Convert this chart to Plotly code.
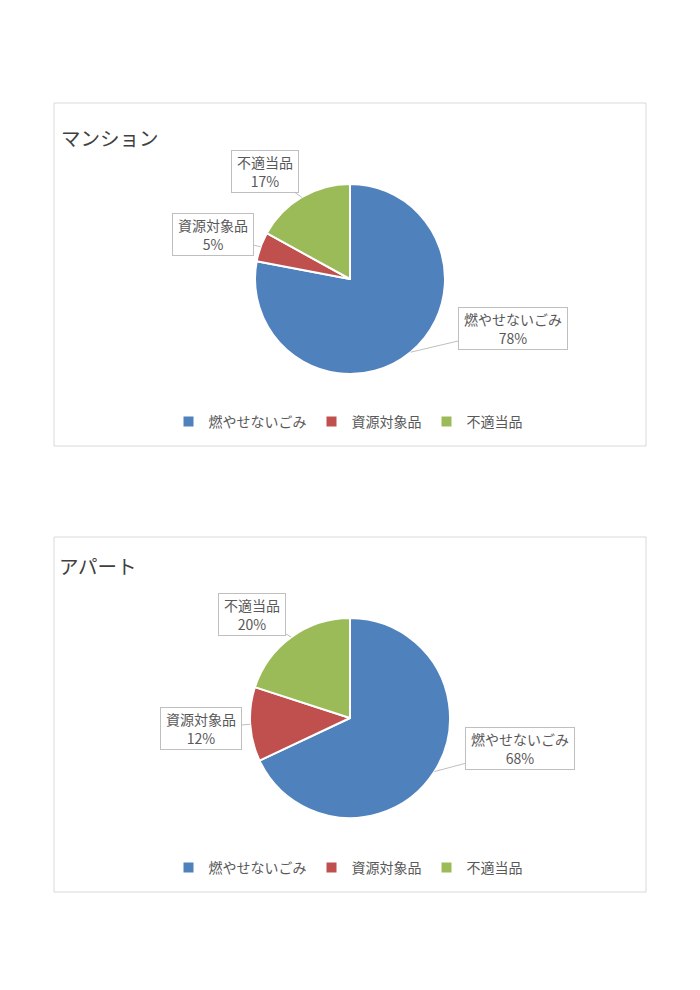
import math
import plotly.graph_objects as go

# ---- data ----
categories = ["燃やせないごみ", "資源対象品", "不適当品"]
mansion_values = [78, 5, 17]
apartment_values = [68, 12, 20]
titles = ["マンション", "アパート"]
colors = ["#4F81BD", "#C0504D", "#9BBB59"]

# ---- layout constants (pixels on the 700x990 page) ----
OFF = 8                      # default page margin around the figure
W, H = 700 - OFF, 990 - OFF  # figure size
FONT = "Noto Sans CJK JP, Noto Sans, sans-serif"
TXT = "#595959"
LABEL_FS = 14
panels = [
    dict(frame=(54, 103, 646, 446), title_xy=(59, 137), center=(350, 279), r=95,
         legend_y=422, label_offsets=[(102, -24), (-48, -12), (-37, -26)]),
    dict(frame=(54, 537, 646, 892), title_xy=(57, 565), center=(350, 718), r=100,
         legend_y=868, label_offsets=[(86, -23), (-49, 4), (-39, -23)]),
]
datasets = [mansion_values, apartment_values]


def px(x):
    return (x - OFF) / W


def py(y):
    return 1 - (y - OFF) / H


fig = go.Figure()
shapes, annotations = [], []
legend_names = ["legend", "legend2"]

for i, (p, vals) in enumerate(zip(panels, datasets)):
    cx, cy = p["center"]
    r = p["r"]
    # pie legends are shared by label across traces; make labels of the
    # second chart distinct (invisible suffix) so each legend gets its items
    labels = [c + "\u200b" * i for c in categories]
    fig.add_trace(go.Pie(
        labels=labels, values=vals, sort=False, direction="clockwise",
        rotation=0, textinfo="none", hoverinfo="label+percent",
        marker=dict(colors=colors, line=dict(color="white", width=2)),
        domain=dict(x=[px(cx - r), px(cx + r)], y=[py(cy + r), py(cy - r)]),
        legend=legend_names[i], showlegend=True,
    ))
    x0, y0, x1, y1 = p["frame"]
    shapes.append(dict(type="rect", xref="paper", yref="paper",
                       x0=px(x0), x1=px(x1), y0=py(y1), y1=py(y0),
                       line=dict(color="#d9d9d9", width=1), fillcolor="rgba(0,0,0,0)"))
    annotations.append(dict(text=titles[i], xref="paper", yref="paper",
                            x=px(p["title_xy"][0]), y=py(p["title_xy"][1]),
                            xanchor="left", yanchor="middle", showarrow=False,
                            font=dict(size=19.5, color="#404040", family=FONT)))
    total = sum(vals)
    cum = 0
    for j, v in enumerate(vals):
        mid = (cum + v / 2) / total * 2 * math.pi
        cum += v
        ax_, ay_ = cx + r * math.sin(mid), cy - r * math.cos(mid)
        dx, dy = p["label_offsets"][j]
        pct = round(v / total * 100)
        annotations.append(dict(
            text=f"{categories[j]}<br>{pct}%", xref="paper", yref="paper",
            x=px(ax_), y=py(ay_), ax=dx, ay=dy, showarrow=True, arrowhead=0,
            arrowwidth=1, arrowcolor="#bfbfbf", standoff=0,
            width=len(categories[j]) * LABEL_FS + 4, height=35,
            bordercolor="#bfbfbf", borderwidth=1, borderpad=3, bgcolor="white",
            font=dict(size=LABEL_FS, color=TXT, family=FONT)))

legend_common = dict(orientation="h", xanchor="center", x=px(348), yanchor="middle",
                     font=dict(size=14, color=TXT, family=FONT),
                     bgcolor="rgba(0,0,0,0)", itemclick=False, itemdoubleclick=False)
fig.update_layout(
    width=W, height=H, margin=dict(l=0, r=0, t=0, b=0),
    paper_bgcolor="white", plot_bgcolor="white",
    font=dict(family=FONT, color=TXT),
    shapes=shapes, annotations=annotations,
    legend=dict(**legend_common, y=py(panels[0]["legend_y"])),
    legend2=dict(**legend_common, y=py(panels[1]["legend_y"])),
)
fig.write_html("out.html")
